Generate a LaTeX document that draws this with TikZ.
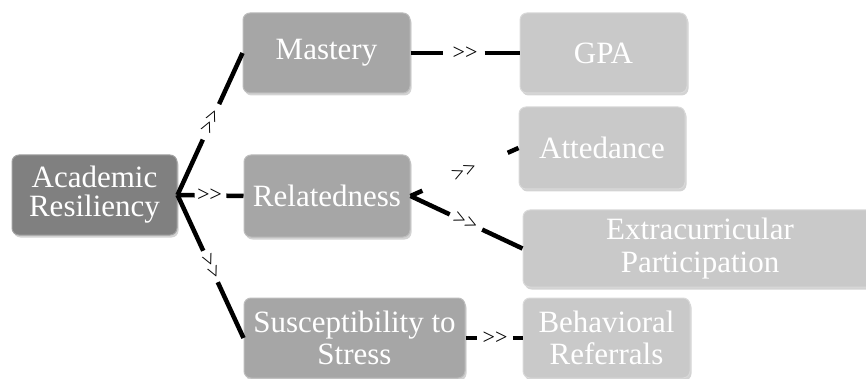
\documentclass[tikz,border=0pt]{standalone}
\usepackage{fontspec}
\setmainfont{Liberation Serif}
\newfontfamily\lblfont{Liberation Serif}
\usetikzlibrary{calc,shadows}
\definecolor{lvA}{RGB}{128,128,128}
\definecolor{lvB}{RGB}{166,166,166}
\definecolor{lvC}{RGB}{201,201,201}
\begin{document}
\begin{tikzpicture}[x=1pt,y=-1pt,
  box/.style={rectangle, rounded corners=7pt, text=white, align=center,
    inner sep=1pt, minimum height=80pt, line width=1pt,
    font=\fontsize{31}{32.5}\selectfont,
    drop shadow={shadow xshift=1.5pt, shadow yshift=-2.5pt, opacity=0.35}},
  boxA/.style={box, fill=lvA, draw=lvA!75!white},
  boxB/.style={box, fill=lvB, draw=lvB!75!white},
  boxC/.style={box, fill=lvC, draw=lvC!70!white},
  conn/.style={line width=4.5pt, black},
  lbl/.style={font=\lblfont\fontsize{22}{22}\selectfont, inner sep=0pt, sloped}]
\useasboundingbox (0,0) rectangle (866,379);
\clip (0,0) rectangle (866,379);

% nodes
\node[boxA, minimum width=165pt, font=\fontsize{31}{29}\selectfont] (ac) at (94.5,195) {Academic\\Resiliency};
\node[boxB, minimum width=167pt] (ma) at (326.5,53) {Mastery};
\node[boxB, minimum width=166pt, minimum height=82pt] (re) at (327,196) {Relatedness};
\node[boxB, minimum width=221pt] (su) at (354.5,338) {Susceptibility to\\Stress};
\node[boxC, minimum width=167pt] (gpa) at (603.5,53) {GPA};
\node[boxC, minimum width=166pt, minimum height=82pt] (att) at (602,148) {Attedance};
\node[boxC, minimum width=354pt, minimum height=77pt] (ext) at (700,248.5) {Extracurricular\\Participation};
\node[boxC, minimum width=167pt] (beh) at (606.5,338) {Behavioral\\Referrals};

% Academic -> Mastery
\draw[conn] (ac.east) -- ($(ac.east)!0.39!(ma.west)$);
\draw[conn] ($(ac.east)!0.64!(ma.west)$) -- (ma.west);
\path (ac.east) -- node[lbl, pos=0.515] {>>} (ma.west);
% Academic -> Relatedness
\draw[conn] (ac.east) -- ($(ac.east)!0.26!(re.west)$);
\draw[conn] ($(ac.east)!0.74!(re.west)$) -- (re.west);
\path (ac.east) -- node[lbl, pos=0.485] {>>} (re.west);
% Academic -> Susceptibility
\draw[conn] (ac.east) -- ($(ac.east)!0.39!(su.west)$);
\draw[conn] ($(ac.east)!0.61!(su.west)$) -- (su.west);
\path (ac.east) -- node[lbl, pos=0.5] {>>} (su.west);
% Mastery -> GPA
\draw[conn] (ma.east) -- ($(ma.east)!0.30!(gpa.west)$);
\draw[conn] ($(ma.east)!0.68!(gpa.west)$) -- (gpa.west);
\path (ma.east) -- node[lbl, pos=0.5] {>>} (gpa.west);
% Relatedness -> Attedance
\draw[conn] (re.east) -- ($(re.east)!0.11!(att.west)$);
\draw[conn] ($(re.east)!0.90!(att.west)$) -- (att.west);
\path (re.east) -- node[lbl, pos=0.5] {>>} (att.west);
% Relatedness -> Extracurricular
\draw[conn] (re.east) -- ($(re.east)!0.35!(ext.west)$);
\draw[conn] ($(re.east)!0.64!(ext.west)$) -- (ext.west);
\path (re.east) -- node[lbl, pos=0.49] {>>} (ext.west);
% Susceptibility -> Behavioral
\draw[conn] (su.east) -- ($(su.east)!0.20!(beh.west)$);
\draw[conn] ($(su.east)!0.83!(beh.west)$) -- (beh.west);
\path (su.east) -- node[lbl, pos=0.52] {>>} (beh.west);
\end{tikzpicture}
\end{document}
